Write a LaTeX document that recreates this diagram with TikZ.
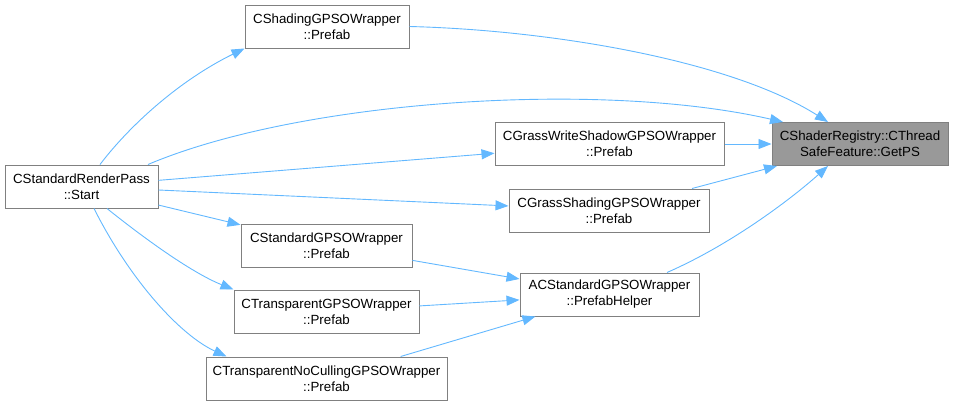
\documentclass[tikz,border=0pt]{standalone}
\usepackage{fontspec}
\setmainfont{Liberation Sans}
\usetikzlibrary{arrows.meta}
\definecolor{edgeblue}{HTML}{63B8FF}
\definecolor{boxline}{HTML}{808080}
\definecolor{hilite}{HTML}{999999}
\begin{document}
\begin{tikzpicture}[x=1pt,y=-1pt,
  fn/.style={draw=boxline, line width=1pt, fill=white, inner sep=0pt, align=center,
    minimum height=43pt, font=\fontsize{13.3}{16}\selectfont},
  cur/.style={fn, fill=hilite},
  call/.style={draw=edgeblue, line width=0.9pt, -{Triangle[length=13pt,width=10pt]}}]
\useasboundingbox (0,0) rectangle (953,405);
\node[fn, minimum width=164pt] (shading) at (327,26.5) {CShadingGPSOWrapper\\::Prefab};
\node[cur, minimum width=176pt] (getps) at (860,144) {CShaderRegistry::CThread\\SafeFeature::GetPS};
\node[fn, minimum width=229pt] (gws) at (609.5,144) {CGrassWriteShadowGPSOWrapper\\::Prefab};
\node[fn, minimum width=153pt] (start) at (81.5,186.5) {CStandardRenderPass\\::Start};
\node[fn, minimum width=200pt] (gshade) at (609,210.5) {CGrassShadingGPSOWrapper\\::Prefab};
\node[fn, minimum width=171pt] (cstd) at (326.5,245.5) {CStandardGPSOWrapper\\::Prefab};
\node[fn, minimum width=179pt] (ph) at (609.5,294.5) {ACStandardGPSOWrapper\\::PrefabHelper};
\node[fn, minimum width=185pt] (ctrans) at (326.5,311.5) {CTransparentGPSOWrapper\\::Prefab};
\node[fn, minimum width=241pt] (nocull) at (326.5,378.5) {CTransparentNoCullingGPSOWrapper\\::Prefab};

\draw[call] ([xshift=18.5pt]start.north) .. controls (130,125) and (180,80) .. (shading.south west);
\draw[call] (shading.east) .. controls (550,30) and (730,60) .. ([xshift=-32pt]getps.north);
\draw[call] ([xshift=66.5pt]start.north) .. controls (300,100) and (600,80) .. ([xshift=-77pt]getps.north);
\draw[call] (start) -- (gws);
\draw[call] (gws) -- (getps);
\draw[call] (start) -- (gshade);
\draw[call] (gshade) -- (getps);
\draw[call] ([xshift=57.5pt]ph.north) .. controls (730,245) and (790,200) .. ([xshift=-32pt]getps.south);
\draw[call] (start) -- (cstd);
\draw[call] ([xshift=25.5pt]start.south) .. controls (140,235) and (190,272) .. (ctrans.north west);
\draw[call] ([xshift=12.5pt]start.south) .. controls (130,280) and (180,335) .. ([xshift=21pt]nocull.north west);
\draw[call] (cstd) -- (ph);
\draw[call] (ctrans) -- (ph);
\draw[call] (nocull) -- (ph);
\end{tikzpicture}
\end{document}
